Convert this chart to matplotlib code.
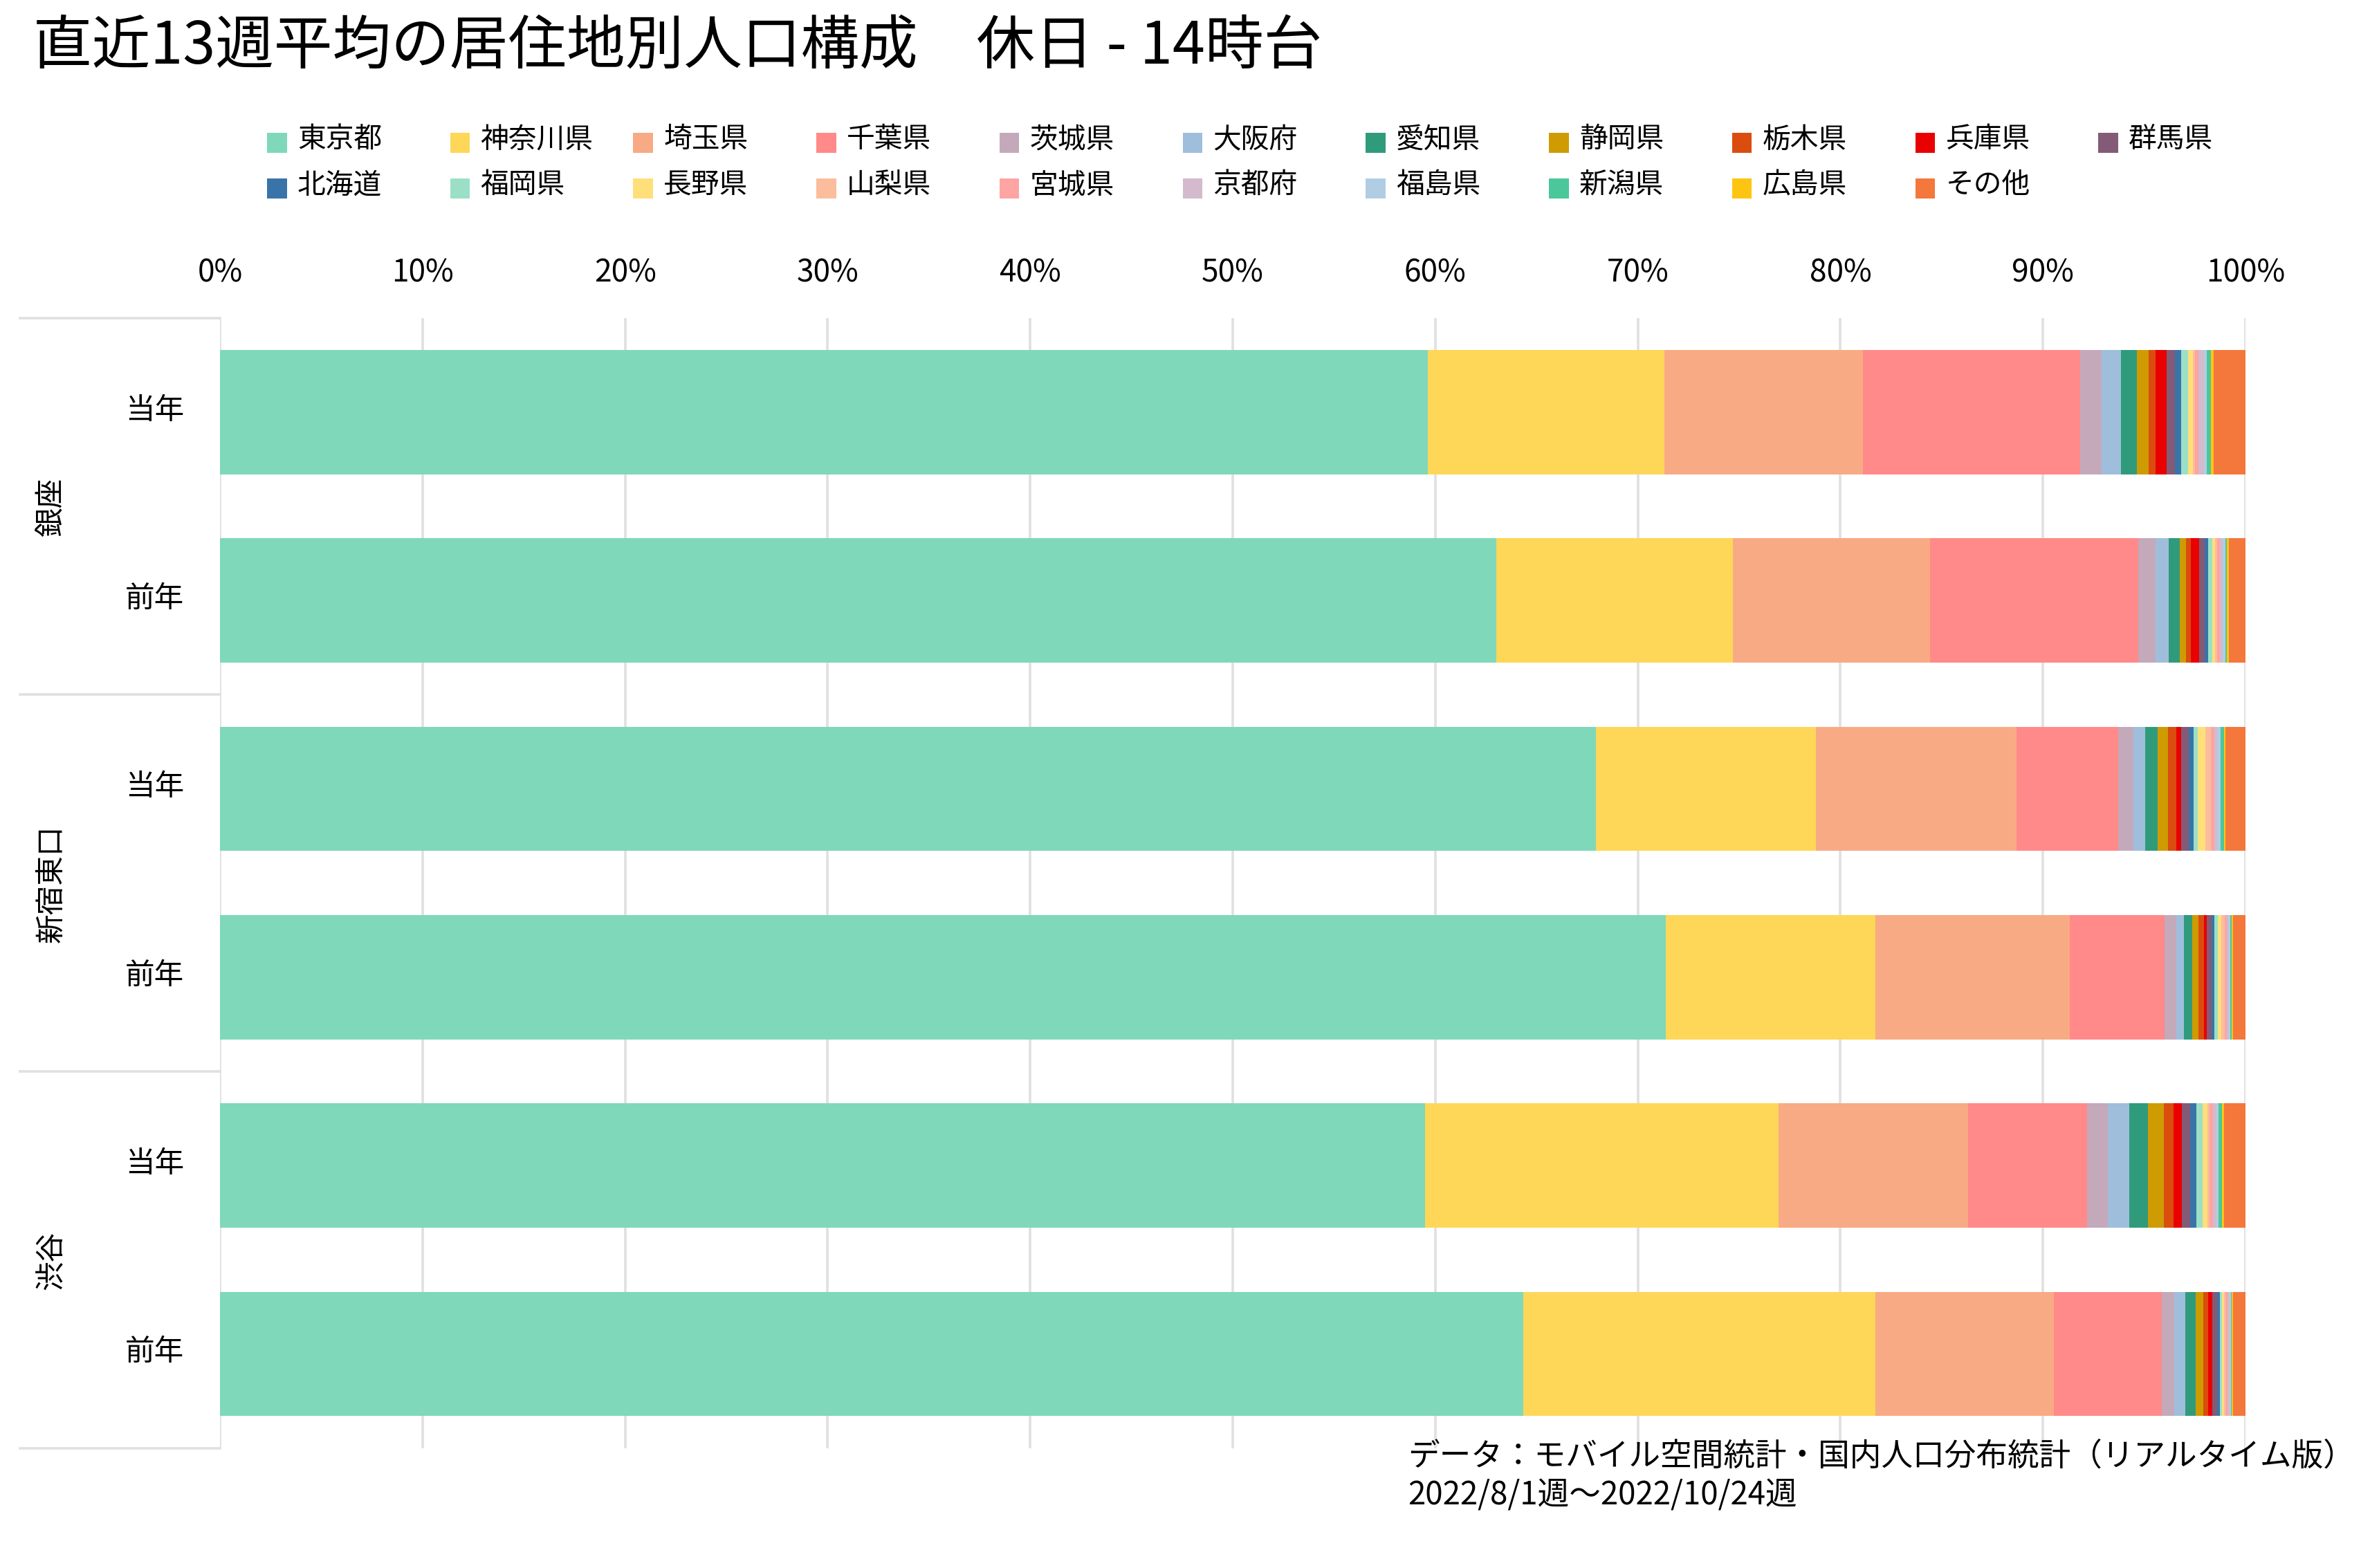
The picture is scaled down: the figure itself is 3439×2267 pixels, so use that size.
import numpy as np
import matplotlib
matplotlib.use("Agg")
import matplotlib.pyplot as plt
from matplotlib.patches import Rectangle

plt.rcParams['font.family'] = ['Noto Sans CJK JP', 'DejaVu Sans']

# 居住地（凡例の順）
prefs = ["東京都", "神奈川県", "埼玉県", "千葉県", "茨城県", "大阪府", "愛知県",
         "静岡県", "栃木県", "兵庫県", "群馬県", "北海道", "福岡県", "長野県",
         "山梨県", "宮城県", "京都府", "福島県", "新潟県", "広島県", "その他"]
colors = ["#7fd8b9", "#fed758", "#f8aa84", "#ff8a89", "#c4a9bb", "#9ebedc", "#309b7b",
          "#cf9b03", "#da4d0f", "#e90000", "#835b77", "#3974a8", "#9be0c6", "#ffdf7a",
          "#fbbd9c", "#fea4a3", "#d3bacc", "#b1cde4", "#4bc79b", "#fec412", "#f4773b"]

# 構成比（%）
ginza_cur = [59.63, 11.69, 9.81, 10.71, 1.06, 0.96, 0.79, 0.58, 0.34, 0.55, 0.39,
             0.33, 0.34, 0.22, 0.09, 0.20, 0.25, 0.16, 0.20, 0.14, 1.60]
ginza_prev = [63.00, 11.69, 9.74, 10.28, 0.85, 0.65, 0.55, 0.31, 0.24, 0.41, 0.25,
              0.19, 0.20, 0.14, 0.10, 0.14, 0.14, 0.14, 0.07, 0.10, 0.82]
shinjuku_cur = [67.94, 10.86, 9.89, 5.03, 0.75, 0.58, 0.61, 0.51, 0.41, 0.24, 0.38,
                0.24, 0.20, 0.38, 0.27, 0.17, 0.14, 0.17, 0.17, 0.07, 0.99]
shinjuku_prev = [71.39, 10.34, 9.60, 4.68, 0.58, 0.38, 0.41, 0.31, 0.27, 0.14, 0.24,
                 0.14, 0.17, 0.17, 0.17, 0.10, 0.07, 0.10, 0.07, 0.07, 0.61]
shibuya_cur = [59.48, 17.45, 9.36, 5.89, 1.02, 1.06, 0.92, 0.79, 0.48, 0.41, 0.41,
               0.31, 0.31, 0.24, 0.10, 0.17, 0.17, 0.10, 0.17, 0.10, 1.06]
shibuya_prev = [64.34, 17.38, 8.82, 5.33, 0.61, 0.55, 0.51, 0.38, 0.24, 0.20, 0.24,
                0.14, 0.10, 0.10, 0.07, 0.10, 0.10, 0.07, 0.03, 0.07, 0.61]

areas = ["銀座", "新宿東口", "渋谷"]
years = ["当年", "前年"]
rows = [ginza_cur, ginza_prev, shinjuku_cur, shinjuku_prev, shibuya_cur, shibuya_prev]

W, H = 1568, 1034
fig = plt.figure(figsize=(15.68, 10.34), dpi=3439 / 15.68)
ax = fig.add_axes([145 / W, 1 - 955 / H, (1480 - 145) / W, (955 - 210) / H])

data = np.array(rows)
ypos = np.arange(len(rows))
left = np.zeros(len(rows))
for i, name in enumerate(prefs):
    ax.barh(ypos, data[:, i], left=left, height=0.66, color=colors[i], zorder=3)
    left += data[:, i]

ax.set_xlim(0, 100)
ax.set_ylim(len(rows) - 0.5, -0.5)
ax.xaxis.tick_top()
ax.set_xticks(np.arange(0, 101, 10))
ax.set_xticklabels([f"{v}%" for v in range(0, 101, 10)], fontsize=14.5)
ax.set_yticks(ypos - 0.03)
ax.set_yticklabels(years * 3, fontsize=14)
ax.tick_params(axis="both", length=0)
ax.tick_params(axis="x", pad=14)
ax.tick_params(axis="y", pad=17)
ax.grid(axis="x", color="#e0e0e0", linewidth=1.2, zorder=0)
for s in ax.spines.values():
    s.set_visible(False)

# グループ区切りと地点名
ytr = ax.get_yaxis_transform()
x0 = (13 - 145) / (1480 - 145)
for yb in [-0.5, 1.5, 3.5, 5.5]:
    ax.plot([x0, 0], [yb, yb], color="#e0e0e0", lw=1.2, transform=ytr, clip_on=False)
for k, area in enumerate(areas):
    ax.text((34 - 145) / (1480 - 145), 2 * k + 0.5, area, rotation=90, ha="center",
            va="center", fontsize=14, transform=ytr)

# タイトル
fig.text(22 / W, 1 - 31 / H, "直近13週平均の居住地別人口構成　休日 - 14時台",
         fontsize=27.8, va="center", ha="left")

# 凡例（2段）
for j, name in enumerate(prefs):
    r, c = (0, j) if j < 11 else (1, j - 11)
    yc = [92, 122][r]
    xs = 176 + 120.7 * c
    fig.add_artist(Rectangle((xs / W, 1 - (yc + 9) / H), 13 / W, 13 / H,
                             facecolor=colors[j], edgecolor="none",
                             transform=fig.transFigure))
    fig.text((xs + 20) / W, 1 - yc / H, name, fontsize=13.4, va="center", ha="left")

# 出典
fig.text(928 / W, 1 - 960 / H, "データ：モバイル空間統計・国内人口分布統計（リアルタイム版）",
         fontsize=15, va="center", ha="left")
fig.text(928 / W, 1 - 986 / H, "2022/8/1週～2022/10/24週",
         fontsize=15, va="center", ha="left")

fig.savefig("out.png", dpi=3439 / 15.68, facecolor="white")
